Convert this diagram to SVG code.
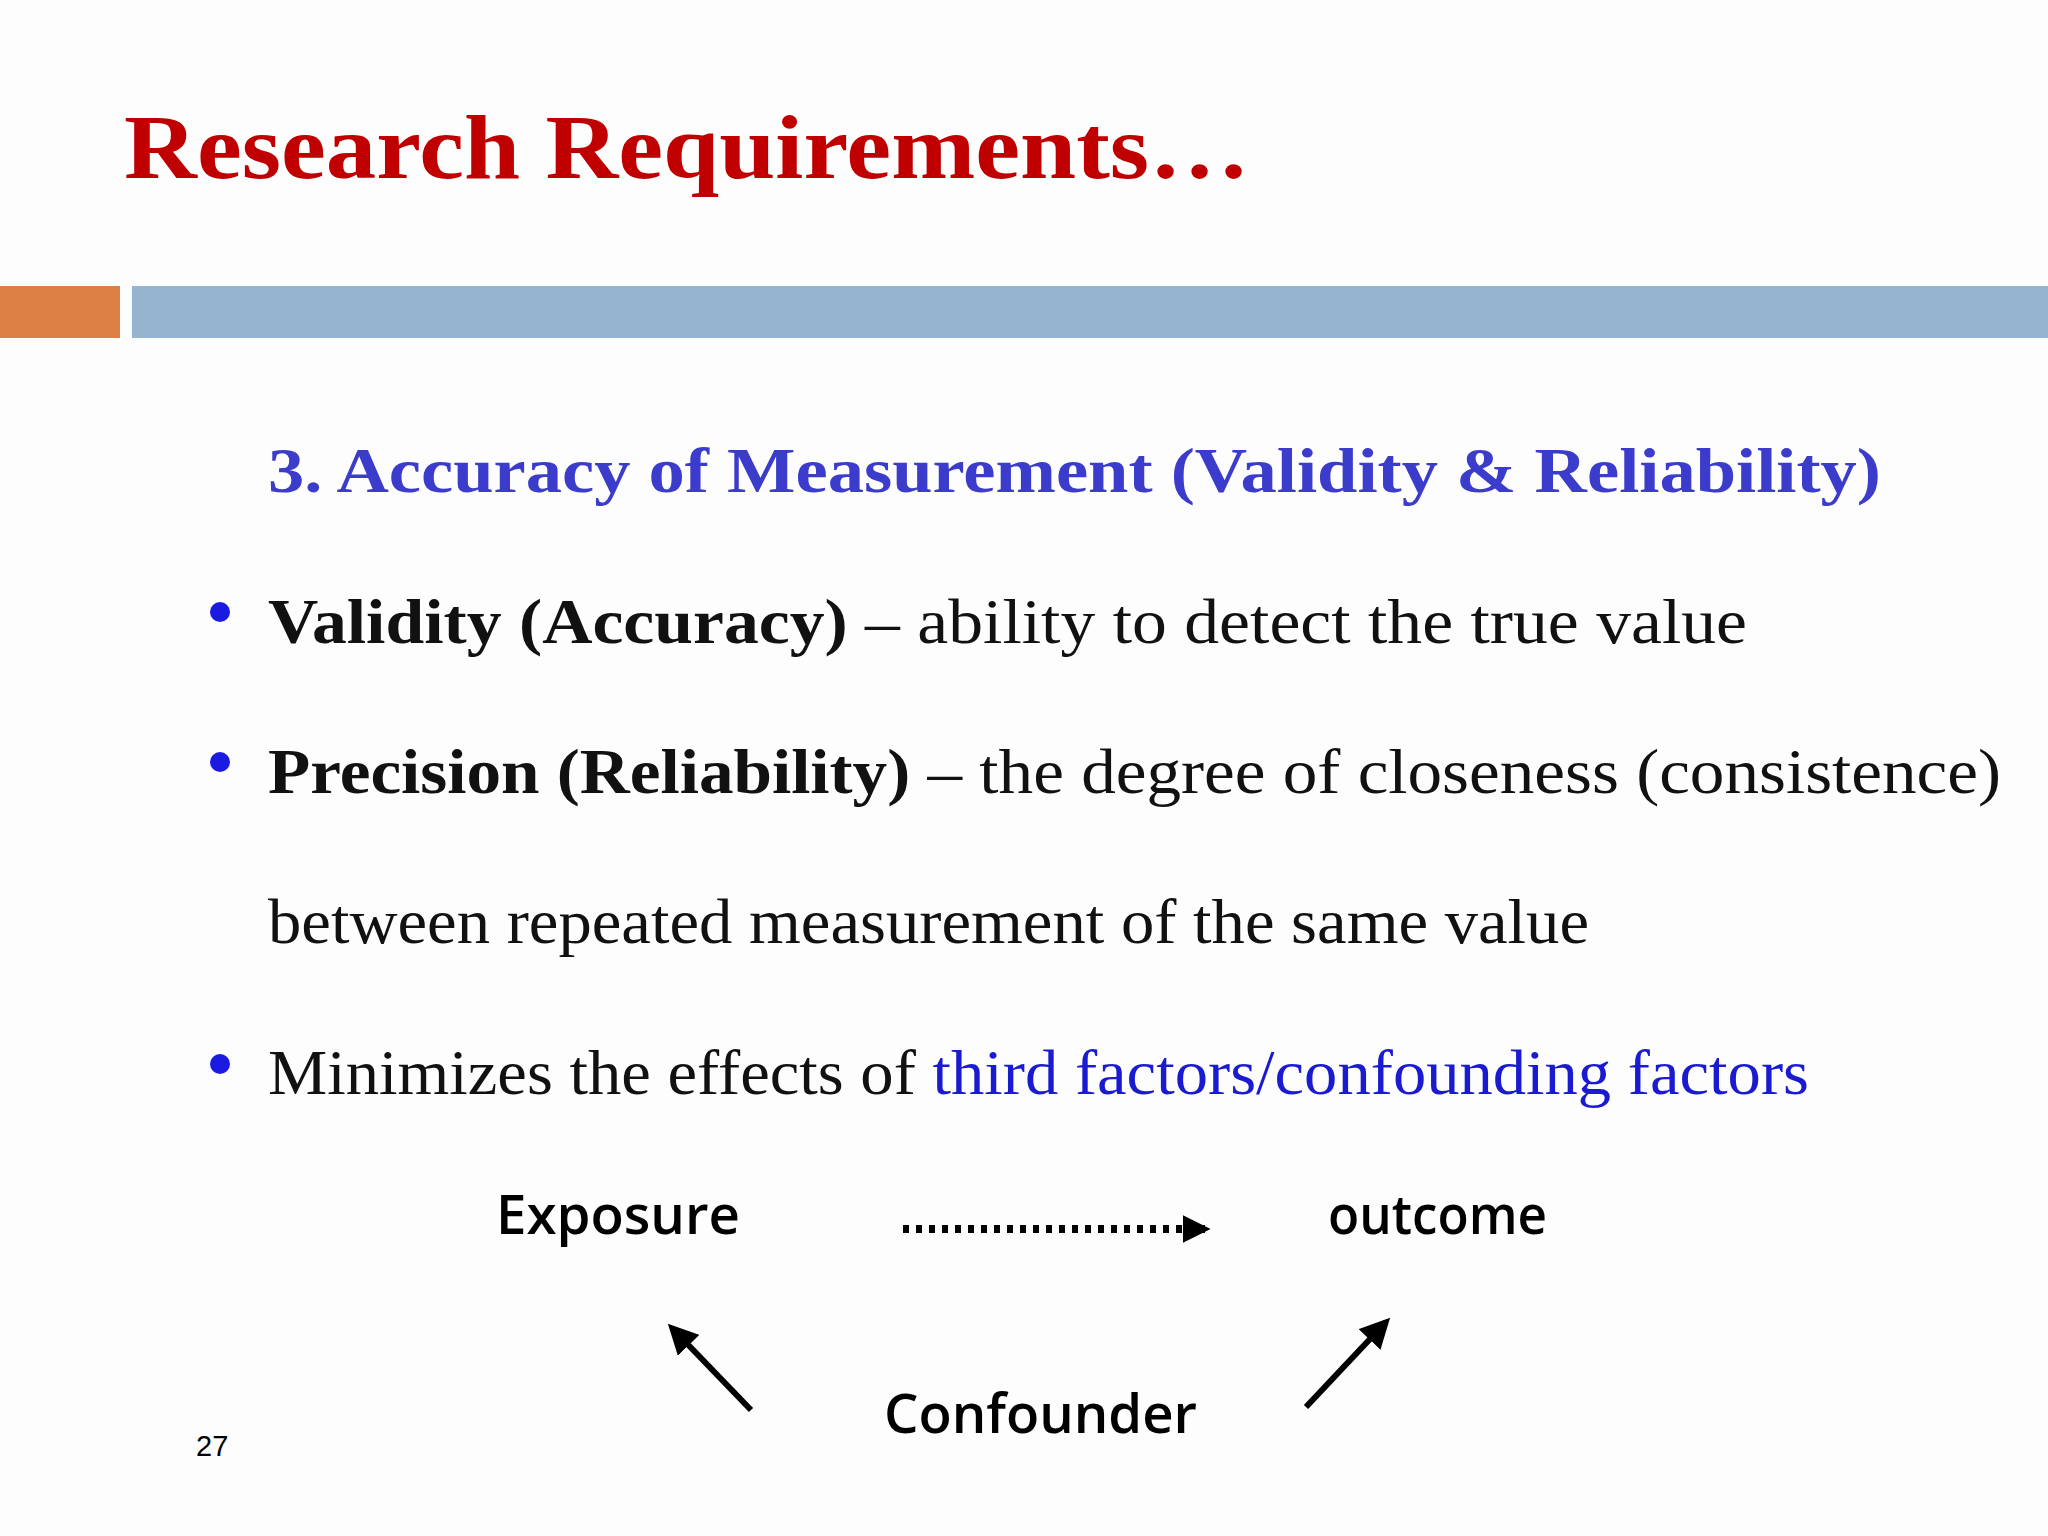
<svg xmlns="http://www.w3.org/2000/svg" width="2048" height="1536" viewBox="0 0 2048 1536">
<style>
.s{font-family:"Liberation Serif","DejaVu Serif",serif;font-size:64px;fill:#111}
.b{font-weight:bold}
.blue{fill:#1a1ad0}
.sans{font-family:"Open Sans","Liberation Sans",sans-serif;font-size:54px;font-weight:600;fill:#000}
</style>
<defs>
<marker id="ah" viewBox="0 0 10 10" refX="8" refY="5" markerWidth="5" markerHeight="5" orient="auto"><path d="M0,0L10,5L0,10z" fill="#000"/></marker>
<marker id="ah2" viewBox="0 0 10 10" refX="8" refY="5" markerWidth="3.5" markerHeight="3.5" orient="auto"><path d="M0,0L10,5L0,10z" fill="#000"/></marker>
</defs>
<rect width="2048" height="1536" fill="#fdfdfd"/>
<text x="124" y="178" font-family="Liberation Serif,serif" font-weight="bold" font-size="92" fill="#c00000" textLength="1126" lengthAdjust="spacingAndGlyphs">Research Requirements…</text>
<rect x="0" y="286" width="120" height="52" fill="#dd8045"/>
<rect x="132" y="286" width="1916" height="52" fill="#95b4cf"/>
<text x="268" y="492" class="s b" style="fill:#3b3bcc" textLength="1613" lengthAdjust="spacingAndGlyphs">3. Accuracy of Measurement (Validity &amp; Reliability)</text>
<g id="bullets" fill="#1a1ae0">
<circle cx="220" cy="612" r="10"/><circle cx="220" cy="762" r="10"/><circle cx="220" cy="1064" r="10"/>
</g>
<text x="268" y="643" class="s" textLength="1479" lengthAdjust="spacingAndGlyphs"><tspan class="b">Validity (Accuracy)</tspan> – ability to detect the true value</text>
<text x="268" y="793" class="s" textLength="1733" lengthAdjust="spacingAndGlyphs"><tspan class="b">Precision (Reliability)</tspan> – the degree of closeness (consistence)</text>
<text x="268" y="943" class="s" textLength="1321" lengthAdjust="spacingAndGlyphs">between repeated measurement of the same value</text>
<text x="268" y="1094" class="s" textLength="1541" lengthAdjust="spacingAndGlyphs">Minimizes the effects of <tspan class="blue">third factors/confounding factors</tspan></text>
<g id="exposure"><text x="496" y="1234" class="sans" textLength="244" lengthAdjust="spacingAndGlyphs">Exposure</text></g>
<g id="outcome"><text x="1328" y="1234" class="sans" textLength="219" lengthAdjust="spacingAndGlyphs">outcome</text></g>
<g id="confounder"><text x="884" y="1433" class="sans" textLength="313" lengthAdjust="spacingAndGlyphs">Confounder</text></g>
<g id="connectors" stroke="#000" fill="none">
<line x1="903" y1="1229" x2="1205" y2="1229" stroke-width="8" stroke-dasharray="6,7" marker-end="url(#ah2)"/>
<line x1="751" y1="1410" x2="672" y2="1328" stroke-width="6" marker-end="url(#ah)"/>
<line x1="1306" y1="1407" x2="1386" y2="1322" stroke-width="6" marker-end="url(#ah)"/>
</g>
<text x="196" y="1456" font-family="Liberation Sans,sans-serif" font-size="29" fill="#000">27</text>
</svg>
